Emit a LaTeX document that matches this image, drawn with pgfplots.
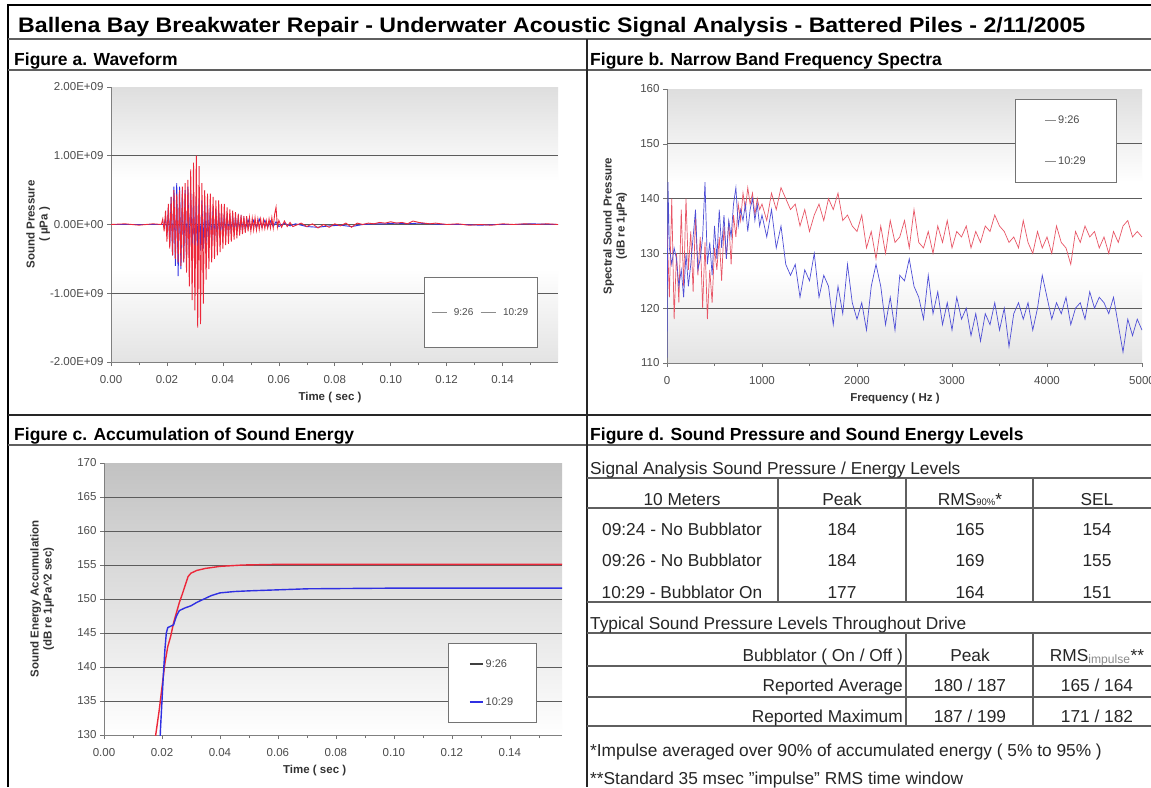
\documentclass[border=0pt]{standalone}
\usepackage{fontspec}
\setmainfont{Liberation Sans}
\usepackage{graphicx}
\usepackage{pgfplots}
\pgfplotsset{compat=1.18}

\definecolor{wred}{RGB}{236,40,58}
\definecolor{wblue}{RGB}{48,48,226}
\definecolor{sred}{RGB}{232,86,102}
\definecolor{sblue}{RGB}{78,78,214}
\definecolor{gridc}{RGB}{92,92,92}
\definecolor{rulec}{RGB}{95,95,95}

% Excel-like plot area fills (shading runs from bottom 0bp to top 100bp)
\pgfdeclareverticalshading{excelab}{100bp}{color(0bp)=(black!27); color(42bp)=(white); color(58bp)=(white); color(100bp)=(black!32)}
\pgfdeclareverticalshading{excelc}{100bp}{color(0bp)=(black!20); color(25bp)=(white); color(100bp)=(black!36)}

\pgfplotsset{
  panel/.style={
    scale only axis,
    axis x line*=bottom,
    axis y line*=left,
    axis line style={black!50, line width=0.8pt},
    every tick/.style={black!55, line width=0.6pt},
    tick align=outside,
    major tick length=4pt,
    minor tick length=3pt,
    tick label style={font=\fontsize{11.5}{12}\selectfont, text=black!70},
    every x tick label/.append style={yshift=-6pt},
    label style={font=\bfseries\fontsize{11.5}{13}\selectfont, text=black!80},
    /pgf/number format/assume math mode=true,
    extra y tick style={grid=major, major grid style={gridc, line width=1pt}},
    extra y tick labels={},
    legend cell align=left,
    legend style={draw=black!55, fill=white, line width=0.6pt,
      font=\fontsize{11}{12}\selectfont, text=black!70},
  },
  xlab/.style={xlabel style={at={(axis description cs:#1,0)}, anchor=center, yshift=-36pt}},
  ylab/.style={ylabel style={at={(axis description cs:#1,0.5)}, anchor=center, align=center}},
}

\newcommand{\tf}{\fontsize{17.3}{19}\selectfont\color{black!85}}
\newcommand{\hf}{\bfseries\fontsize{17.5}{19}\selectfont}

\begin{document}
\begin{tikzpicture}[x=1pt,y=1pt]
\useasboundingbox (0,0) rectangle (1151,-787);
\fill[white] (0,0) rectangle (1151,-787);

% ---------- frame and title ----------
\draw[black, line width=2.5pt] (8,-787) -- (8,-5) -- (1151,-5);
\node[anchor=base west, inner sep=0pt] at (18,-32)
  {\resizebox{1067pt}{\height}{\fontsize{21}{24}\selectfont\bfseries Ballena Bay Breakwater Repair - Underwater Acoustic Signal Analysis - Battered Piles - 2/11/2005}};
\draw[rulec, line width=2pt] (8,-39) -- (1151,-39);
\draw[rulec, line width=1.5pt] (8,-70) -- (1151,-70);
\draw[black!85, line width=1.2pt] (8,-415) -- (1151,-415);
\draw[rulec, line width=1.5pt] (8,-445) -- (1151,-445);
\draw[black!85, line width=1.2pt] (587,-39) -- (587,-787);

\node[anchor=base west, inner sep=0pt, font=\hf] at (14,-65) {Figure a. Waveform};
\node[anchor=base west, inner sep=0pt, font=\hf] at (590,-65) {Figure b. Narrow Band Frequency Spectra};
\node[anchor=base west, inner sep=0pt, font=\hf] at (14,-440) {Figure c. Accumulation of Sound Energy};
\node[anchor=base west, inner sep=0pt, font=\hf] at (590,-440) {Figure d. Sound Pressure and Sound Energy Levels};

% ---------- Figure a ----------
\begin{axis}[panel, at={(111pt,-362pt)}, anchor=south west,
  width=447pt, height=275pt,
  axis background/.style={shading=excelab},
  xmin=0, xmax=0.1598, ymin=-2, ymax=2,
  xtick={0,0.02,0.04,0.06,0.08,0.10,0.12,0.14},
  minor xtick={0.01,0.03,0.05,0.07,0.09,0.11,0.13,0.15},
  scaled x ticks=false,
  xticklabel style={/pgf/number format/.cd, fixed, fixed zerofill, precision=2},
  ytick={-2,-1,0,1,2},
  yticklabels={-2.00E+09,-1.00E+09,0.00E+00,1.00E+09,2.00E+09},
  extra y ticks={-1,0,1},
  xlabel={Time ( sec )}, xlab=0.49,
  ylabel={Sound Pressure\\( µPa )}, ylab=-0.163,
  legend image code/.code={\draw[#1] (0pt,0pt) -- (15pt,0pt);},
  legend columns=2,
  legend style={at={(rel axis cs:0.70,0.051)}, anchor=south west,
    font=\fontsize{10}{11}\selectfont,
    inner xsep=7pt, inner ysep=29pt, /tikz/column sep=5pt},
]
\addlegendimage{black!45, line width=0.7pt}\addlegendentry{9:26}
\addlegendimage{black!45, line width=0.7pt}\addlegendentry{10:29}
% 10:29
\addplot[wblue, line width=0.9pt, forget plot] table {
0.0000 0.00
0.0100 0.00
0.0190 0.00
0.0195 0.10
0.0200 -0.15
0.0205 0.25
0.0210 -0.30
0.0215 0.40
0.0220 -0.45
0.0225 0.55
0.0230 -0.60
0.0235 0.60
0.0240 -0.75
0.0245 0.55
0.0250 -0.65
0.0255 0.50
0.0260 -0.55
0.0265 0.50
0.0270 -0.50
0.0275 0.55
0.0280 -0.45
0.0285 0.50
0.0290 -0.45
0.0295 0.45
0.0300 -0.45
0.0305 0.40
0.0310 -0.40
0.0315 0.38
0.0320 -0.38
0.0325 0.35
0.0330 -0.35
0.0335 0.32
0.0340 -0.32
0.0345 0.30
0.0350 -0.30
0.0355 0.28
0.0360 -0.28
0.0365 0.25
0.0370 -0.25
0.0375 0.22
0.0380 -0.22
0.0385 0.20
0.0390 -0.20
0.0395 0.18
0.0400 -0.18
0.0405 0.16
0.0410 -0.16
0.0415 0.15
0.0420 -0.14
0.0425 0.13
0.0430 -0.13
0.0435 0.12
0.0440 -0.12
0.0445 0.11
0.0450 -0.10
0.0455 0.10
0.0460 -0.09
0.0465 0.09
0.0470 -0.08
0.0475 0.08
0.0480 -0.07
0.0490 0.07
0.0500 -0.06
0.0510 0.06
0.0520 -0.05
0.0530 0.08
0.0540 -0.04
0.0550 0.06
0.0560 -0.04
0.0570 0.05
0.0580 -0.03
0.0590 0.04
0.0600 -0.03
0.0620 0.02
0.0640 -0.02
0.0660 0.01
0.0700 -0.03
0.0740 -0.04
0.0780 -0.02
0.0820 -0.01
0.0860 -0.03
0.0900 0.00
0.0940 0.01
0.0980 0.01
0.1020 0.02
0.1060 0.01
0.1100 0.02
0.1140 0.01
0.1200 0.00
0.1260 0.00
0.1320 -0.01
0.1380 0.00
0.1440 0.00
0.1500 0.01
0.1598 0.00
};
% 9:26
\addplot[wred, line width=0.9pt, forget plot] table {
0.0000 0.00
0.0050 0.01
0.0100 -0.01
0.0150 0.01
0.0180 0.00
0.0185 0.08
0.0190 -0.10
0.0195 0.20
0.0200 -0.25
0.0205 0.30
0.0210 -0.35
0.0215 0.40
0.0220 -0.45
0.0225 0.50
0.0230 -0.50
0.0235 0.45
0.0240 -0.55
0.0245 0.50
0.0250 -0.60
0.0255 0.55
0.0260 -0.55
0.0265 0.60
0.0270 -0.70
0.0275 0.65
0.0280 -0.90
0.0285 0.80
0.0290 -1.10
0.0295 0.90
0.0300 -1.25
0.0305 1.00
0.0310 -1.50
0.0315 0.85
0.0320 -1.45
0.0325 0.60
0.0330 -1.15
0.0335 0.50
0.0340 -0.80
0.0345 0.45
0.0350 -0.65
0.0355 0.45
0.0360 -0.55
0.0365 0.40
0.0370 -0.50
0.0375 0.35
0.0380 -0.45
0.0385 0.35
0.0390 -0.40
0.0395 0.30
0.0400 -0.35
0.0405 0.30
0.0410 -0.30
0.0415 0.25
0.0420 -0.28
0.0425 0.22
0.0430 -0.25
0.0435 0.20
0.0440 -0.22
0.0445 0.18
0.0450 -0.20
0.0455 0.15
0.0460 -0.16
0.0465 0.14
0.0470 -0.14
0.0475 0.12
0.0480 -0.12
0.0485 0.12
0.0490 -0.10
0.0495 0.10
0.0500 -0.10
0.0505 0.09
0.0510 -0.08
0.0515 0.10
0.0520 -0.08
0.0525 0.08
0.0530 -0.07
0.0535 0.08
0.0540 -0.06
0.0545 0.07
0.0550 -0.06
0.0555 0.06
0.0560 -0.05
0.0565 0.08
0.0570 -0.05
0.0575 0.10
0.0580 -0.05
0.0585 0.15
0.0590 0.25
0.0595 -0.04
0.0600 0.06
0.0610 -0.04
0.0620 0.05
0.0630 -0.03
0.0640 0.03
0.0650 -0.03
0.0680 0.02
0.0700 -0.03
0.0720 0.01
0.0740 -0.05
0.0760 0.00
0.0780 -0.04
0.0800 0.01
0.0820 -0.02
0.0840 0.02
0.0860 -0.04
0.0880 0.02
0.0900 0.00
0.0920 0.02
0.0940 0.01
0.0960 0.03
0.0980 0.02
0.1000 0.04
0.1020 0.02
0.1040 0.03
0.1060 0.01
0.1080 0.05
0.1100 0.03
0.1120 0.02
0.1140 0.01
0.1160 0.02
0.1200 0.00
0.1240 0.01
0.1280 -0.01
0.1320 0.00
0.1360 -0.01
0.1400 0.01
0.1440 0.00
0.1480 0.01
0.1520 0.00
0.1560 0.01
0.1598 0.00
};
\end{axis}

% ---------- Figure b ----------
\begin{axis}[panel, at={(667pt,-363pt)}, anchor=south west,
  width=475pt, height=274pt,
  axis background/.style={shading=excelab},
  xmin=0, xmax=5000, ymin=110, ymax=160,
  xtick={0,1000,2000,3000,4000,5000}, minor x tick num=1,
  xticklabel style={/pgf/number format/1000 sep={}},
  ytick={110,120,130,140,150,160},
  extra y ticks={120,130,140,150},
  xlabel={Frequency ( Hz )}, xlab=0.48,
  ylabel={Spectral Sound Pressure\\(dB re 1µPa)}, ylab=-0.109,
  legend image code/.code={\draw[#1] (0pt,0pt) -- (11pt,0pt);},
  legend style={at={(rel axis cs:0.733,0.964)}, anchor=north west,
    inner xsep=29pt, inner ysep=15pt, /tikz/row sep=27pt},
]
\addlegendimage{black!45, line width=0.7pt}\addlegendentry{9:26}
\addlegendimage{black!45, line width=0.7pt}\addlegendentry{10:29}
% 9:26
\addplot[sred, line width=0.7pt, forget plot] table {
0 135
25 122
50 140
75 118
100 130
125 121
150 138
175 124
200 140
225 127
250 134
275 123
300 137
325 126
350 133
375 120
400 132
425 118
450 127
475 121
500 131
525 127
550 133
575 125
600 135
625 129
650 136
675 128
700 137
725 133
750 139
775 136
800 141
825 138
850 142
875 139
900 141
925 137
950 140
975 138
1000 139
1050 136
1100 141
1150 138
1200 142
1250 140
1300 138
1350 139
1400 135
1450 138
1500 134
1550 137
1600 139
1650 136
1700 140
1750 138
1800 141
1850 136
1900 137
1950 135
2000 134
2050 137
2100 131
2150 134
2200 129
2250 135
2300 130
2350 136
2400 132
2450 133
2500 136
2550 131
2600 138
2650 132
2700 131
2750 134
2800 130
2850 135
2900 132
2950 136
3000 131
3050 134
3100 133
3150 135
3200 131
3250 134
3300 132
3350 135
3400 134
3450 137
3500 135
3550 134
3600 132
3650 133
3700 131
3750 136
3800 132
3850 130
3900 134
3950 131
4000 133
4050 130
4100 135
4150 132
4200 131
4250 128
4300 134
4350 132
4400 135
4450 133
4500 134
4550 131
4600 133
4650 130
4700 134
4750 132
4800 135
4850 136
4900 133
4950 134
5000 133
};
% 10:29
\addplot[sblue, line width=0.7pt, forget plot] table {
0 111
10 143
25 131
50 128
75 131
100 129
125 124
150 127
175 122
200 130
225 124
250 128
275 133
300 138
325 127
350 129
375 133
400 143
425 128
450 132
475 126
500 135
525 129
550 138
575 131
600 137
625 129
650 136
675 133
700 139
725 142
750 135
775 138
800 136
825 139
850 134
875 138
900 140
925 136
950 139
975 135
1000 137
1050 133
1100 138
1150 131
1200 135
1250 128
1300 126
1350 128
1400 122
1450 127
1500 125
1550 130
1600 122
1650 126
1700 124
1750 117
1800 124
1850 119
1900 128
1950 121
2000 118
2050 121
2100 116
2150 124
2200 128
2250 124
2300 117
2350 122
2400 116
2450 126
2500 125
2550 129
2600 124
2650 122
2700 118
2750 126
2800 119
2850 123
2900 117
2950 121
3000 116
3050 122
3100 118
3150 120
3200 115
3250 119
3300 114
3350 119
3400 117
3450 121
3500 116
3550 120
3600 113
3650 119
3700 121
3750 118
3800 121
3850 116
3900 120
3950 126
4000 122
4050 118
4100 121
4150 119
4200 122
4250 117
4300 120
4350 121
4400 118
4450 123
4500 120
4550 122
4600 121
4650 119
4700 122
4750 117
4800 112
4850 118
4900 115
4950 118
5000 116
};
\end{axis}

% ---------- Figure c ----------
\begin{axis}[panel, at={(104pt,-735pt)}, anchor=south west,
  width=458pt, height=272pt,
  axis background/.style={shading=excelc},
  xmin=0, xmax=0.158, ymin=130, ymax=170,
  xtick={0,0.02,0.04,0.06,0.08,0.10,0.12,0.14},
  minor xtick={0.01,0.03,0.05,0.07,0.09,0.11,0.13,0.15},
  scaled x ticks=false,
  xticklabel style={/pgf/number format/.cd, fixed, fixed zerofill, precision=2},
  ytick={130,135,140,145,150,155,160,165,170},
  extra y ticks={135,140,145,150,155,160,165},
  xlabel={Time ( sec )}, xlab=0.46,
  ylabel={Sound Energy Accumulation\\(dB re 1µPa\textasciicircum 2 sec)}, ylab=-0.135,
  legend image code/.code={\draw[#1] (0pt,0pt) -- (13pt,0pt);},
  legend style={at={(rel axis cs:0.751,0.044)}, anchor=south west,
    inner xsep=21pt, inner ysep=14pt, /tikz/row sep=25pt},
]
\addlegendimage{black!75, line width=1.4pt}\addlegendentry{9:26}
\addlegendimage{wblue, line width=1.4pt}\addlegendentry{10:29}
% 9:26
\addplot[wred, line width=1.4pt, forget plot] table {
0.0175 129
0.0180 130.5
0.0190 133.5
0.0200 137
0.0210 140.5
0.0220 143
0.0230 144.5
0.0240 146.5
0.0250 148
0.0260 149.5
0.0270 150.7
0.0280 152
0.0290 153.3
0.0300 153.8
0.0320 154.2
0.0350 154.5
0.0400 154.8
0.0480 155.0
0.0600 155.1
0.1000 155.1
0.1580 155.1
};
% 10:29
\addplot[wblue, line width=1.4pt, forget plot] table {
0.0193 129
0.0195 131
0.0200 135
0.0205 139
0.0210 142.5
0.0215 145
0.0220 145.8
0.0240 146.2
0.0250 147.5
0.0260 148.3
0.0280 148.7
0.0300 149.0
0.0320 149.5
0.0345 150.0
0.0370 150.5
0.0400 150.9
0.0450 151.1
0.0500 151.2
0.0700 151.5
0.1000 151.6
0.1580 151.6
};
\end{axis}

% ---------- Figure d (table) ----------
\begin{scope}[rulec, line width=1.3pt]
\draw (587,-478) -- (1151,-478);
\draw (587,-508) -- (1151,-508);
\draw (587,-602) -- (1151,-602);
\draw (587,-633) -- (1151,-633);
\draw (587,-666) -- (1151,-666);
\draw (587,-697) -- (1151,-697);
\draw (587,-726) -- (1151,-726);
\draw (778,-478) -- (778,-602);
\draw (906,-478) -- (906,-602);
\draw (1033,-478) -- (1033,-602);
\draw (906,-633) -- (906,-726);
\draw (1033,-633) -- (1033,-726);
\end{scope}

\begin{scope}[every node/.style={inner sep=0pt, font=\tf}]
\node[anchor=base west] at (590,-474) {Signal Analysis Sound Pressure / Energy Levels};
\node[anchor=base] at (682,-505) {10 Meters};
\node[anchor=base] at (842,-505) {Peak};
\node[anchor=base] at (970,-505) {RMS{\fontsize{9.5}{10}\selectfont 90\%}*};
\node[anchor=base] at (1097,-505) {SEL};
\node[anchor=base] at (682,-535) {09:24 - No Bubblator};
\node[anchor=base] at (842,-535) {184};
\node[anchor=base] at (970,-535) {165};
\node[anchor=base] at (1097,-535) {154};
\node[anchor=base] at (682,-566) {09:26 - No Bubblator};
\node[anchor=base] at (842,-566) {184};
\node[anchor=base] at (970,-566) {169};
\node[anchor=base] at (1097,-566) {155};
\node[anchor=base] at (682,-598) {10:29 - Bubblator On};
\node[anchor=base] at (842,-598) {177};
\node[anchor=base] at (970,-598) {164};
\node[anchor=base] at (1097,-598) {151};
\node[anchor=base west] at (590,-629) {Typical Sound Pressure Levels Throughout Drive};
\node[anchor=base east] at (903,-661) {Bubblator ( On / Off )};
\node[anchor=base] at (970,-661) {Peak};
\node[anchor=base] at (1097,-661) {RMS\textsubscript{\color{black!45}impulse}**};
\node[anchor=base east] at (903,-691) {Reported Average};
\node[anchor=base] at (970,-691) {180 / 187};
\node[anchor=base] at (1097,-691) {165 / 164};
\node[anchor=base east] at (903,-722) {Reported Maximum};
\node[anchor=base] at (970,-722) {187 / 199};
\node[anchor=base] at (1097,-722) {171 / 182};
\node[anchor=base west] at (590,-756) {*Impulse averaged over 90\% of accumulated energy ( 5\% to 95\% )};
\node[anchor=base west] at (590,-784) {**Standard 35 msec "impulse" RMS time window};
\end{scope}
\end{tikzpicture}
\end{document}
